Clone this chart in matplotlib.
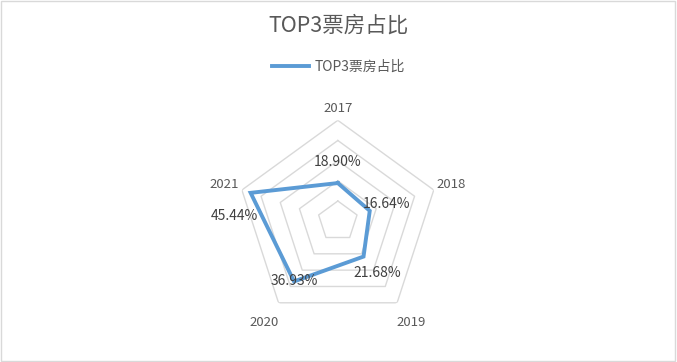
import numpy as np
import matplotlib.pyplot as plt
from matplotlib.patches import Rectangle
from matplotlib.lines import Line2D

plt.rcParams['font.family'] = ['Noto Sans CJK SC', 'DejaVu Sans']

years = ['2017', '2018', '2019', '2020', '2021']
share = [18.90, 16.64, 21.68, 36.93, 45.44]
levels = [10, 20, 30, 40, 50]
series_name = 'TOP3票房占比'

blue = '#5B9BD5'
grey_txt = '#595959'
grid_c = '#D9D9D9'

fig = plt.figure(figsize=(6.77, 3.62), dpi=100)
fig.patches.append(Rectangle((0.002, 0.003), 0.995, 0.994, transform=fig.transFigure,
                             fill=False, edgecolor=grid_c, linewidth=1))

ax = fig.add_axes([0.350, 0.110, 0.298, 0.558], projection='polar')
ax.set_theta_zero_location('N')
ax.set_theta_direction(-1)
theta = np.linspace(0, 2 * np.pi, len(years), endpoint=False)
theta_c = np.append(theta, theta[0])

# pentagon grid
for lv in levels:
    ax.plot(theta_c, [lv] * len(theta_c), color=grid_c, linewidth=1, zorder=1)

vals = np.append(share, share[0])
ax.plot(theta_c, vals, color=blue, linewidth=2.8, zorder=3, solid_joinstyle='miter')

ax.set_ylim(0, 50)
ax.set_yticks([])
ax.grid(False)
ax.spines['polar'].set_visible(False)
ax.set_xticks(theta)
ax.set_xticklabels([])
ax.patch.set_alpha(0)

# category labels
lab_r = [56, 59, 62, 62, 59]
for t, y, r in zip(theta, years, lab_r):
    ax.text(t, r, y, ha='center', va='center', fontsize=9.5, color=grey_txt)

# data labels (offsets in points)
offs = [(0, 15), (12, 5), (10, -12), (0, 0), (-12, -17)]
for t, v, (dx, dy) in zip(theta, share, offs):
    ax.annotate(f'{v:.2f}%', (t, v), xytext=(dx, dy), textcoords='offset points',
                ha='center', va='center', fontsize=10, color='#404040', zorder=4)

fig.text(0.5, 0.93, series_name, ha='center', va='center', fontsize=15.5, color=grey_txt)
leg_h = [Line2D([], [], color=blue, linewidth=2.8)]
fig.legend(leg_h, [series_name], loc='center', bbox_to_anchor=(0.5, 0.815), frameon=False,
           fontsize=10, handlelength=2.6, labelcolor=grey_txt, handletextpad=0.4)

fig.savefig('out.png', dpi=100)
